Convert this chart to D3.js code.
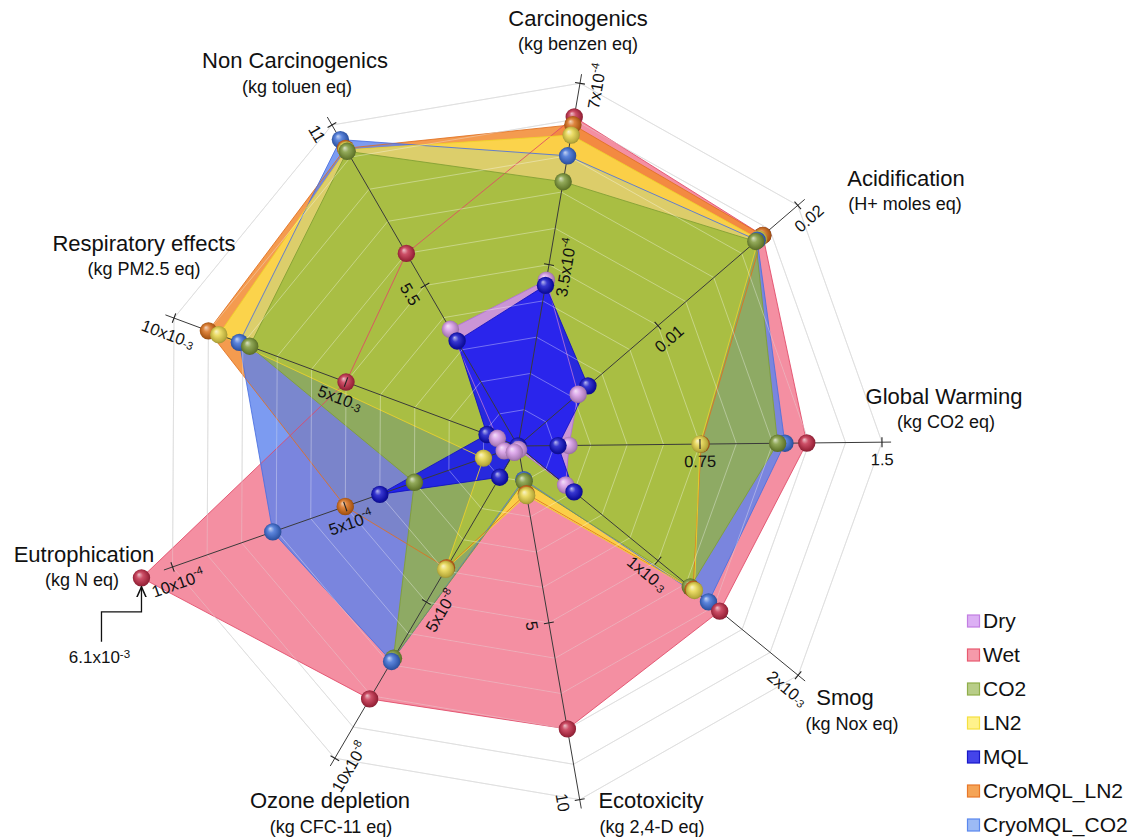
<!DOCTYPE html>
<html><head><meta charset="utf-8">
<script src="https://cdn.jsdelivr.net/npm/d3@7"></script>
<style>
body{margin:0;background:#fff;}
text{font-family:"Liberation Sans", Arial, sans-serif; fill:#111;}
</style>
</head><body>
<svg id="chart" width="1137" height="840"></svg>
<script>
// ---------------- DATA ----------------
const axes = ["Carcinogenics", "Acidification", "Global Warming", "Smog", "Ecotoxicity",
              "Ozone depletion", "Eutrophication", "Respiratory effects", "Non Carcinogenics"];
const units = ["(kg benzen eq)", "(H+ moles eq)", "(kg CO2 eq)", "(kg Nox eq)", "(kg 2,4-D eq)",
               "(kg CFC-11 eq)", "(kg N eq)", "(kg PM2.5 eq)", "(kg toluen eq)"];
const axisMax = [7e-4, 0.02, 1.5, 2e-3, 10, 10e-8, 10e-4, 10e-3, 11];
const midTickLabels = ["3.5x10^-4", "0.01", "0.75", "1x10_-3", "5", "5x10^-8", "5x10^-4", "5x10_-3", "5.5"];
const maxTickLabels = ["7x10^-4", "0.02", "1.5", "2x10_-3", "10", "10x10^-8", "10x10^-4", "10x10_-3", "11"];

const seriesNames = ["Dry", "Wet", "CO2", "LN2", "MQL", "CryoMQL_LN2", "CryoMQL_CO2"];
// values per axis, in the order of `axes`
const dry        = [3.2e-4, 0.0043, 0.21, 0.34e-3, 0.1, 0.2e-8, 0.4e-4, 0.6e-3, 4.0];
const wet        = [6.35e-4, 0.0175, 1.19, 1.44e-3, 8.0, 8.1e-8, 6.1e-3, 5.0e-3, 6.6];
const co2        = [5.1e-4, 0.0170, 1.07, 1.23e-3, 1.0, 6.8e-8, 3.0e-4, 7.8e-3, 10.1];
const ln2        = [6.0e-4, 0.0172, 0.75, 1.26e-3, 1.4, 3.95e-8, 1.0e-4, 8.7e-3, 10.15];
const mql        = [3.1e-4, 0.0050, 0.165, 0.40e-3, 0.0, 1.0e-8, 4.0e-4, 0.9e-3, 3.6];
const cryoMqlLn2 = [6.2e-4, 0.0175, 0.755, 1.25e-3, 1.35, 3.9e-8, 5.0e-4, 9.0e-3, 10.2];
const cryoMqlCo2 = [5.6e-4, 0.0171, 1.10, 1.36e-3, 0.95, 6.9e-8, 7.1e-4, 8.1e-3, 10.5];
const seriesValues = [dry, wet, co2, ln2, mql, cryoMqlLn2, cryoMqlCo2];
const offScaleNote = "6.1x10^-3";   // Wet eutrophication value, beyond the axis

// ---------------- LAYOUT / STYLE ----------------
const W = 1137, H = 840;
const center = [518, 446];
const axisAngleDeg = [-80.3, -40.7, -0.6, 39.3, 80.1, 120.4, 160.7, 200.4, 239.9];
const axisLength   = [368, 369, 364, 362, 359, 362, 366, 367, 371];
const overflowFrac = 1.09;
const ringCount = 10;
const titlePos = [[578,26],[906,186],[944,404],[845,705],[651,808],[330,808],[84,562],[144,251],[295,68]];
const unitPos  = [[578,50],[905,210],[946,428],[852,730],[652,833],[331,833],[82,586],[144,275],[297,93]];

const style = {
  "Dry":         {fill:"#d08ef0", op:0.85, stroke:"#b070d8", ball:"#d89ce8", lfill:"#dcb0f4", lstroke:"#c27ee2"},
  "Wet":         {fill:"#f0607a", op:0.70, stroke:"#e04866", ball:"#c4304c", lfill:"#f59aaa", lstroke:"#e85a70"},
  "CO2":         {fill:"#95b935", op:0.72, stroke:"#809f32", ball:"#7f9a3c", lfill:"#b8cd88", lstroke:"#8fae4a"},
  "LN2":         {fill:"#fde64a", op:0.75, stroke:"#efd22a", ball:"#e8d64c", lfill:"#fff28c", lstroke:"#f5e040"},
  "MQL":         {fill:"#1818ee", op:0.90, stroke:"#1010c0", ball:"#1414c8", lfill:"#4444ea", lstroke:"#1818c8"},
  "CryoMQL_LN2": {fill:"#f28a30", op:0.85, stroke:"#e07020", ball:"#d8701c", lfill:"#f5a456", lstroke:"#e8782a"},
  "CryoMQL_CO2": {fill:"#5b82ee", op:0.80, stroke:"#4a70e0", ball:"#3f6fd6", lfill:"#9cbaf5", lstroke:"#5a88ee"}
};
const drawOrder = ["Wet", "CryoMQL_LN2", "CryoMQL_CO2", "LN2", "CO2", "Dry", "MQL"];

// ---------------- SCALES ----------------
const svg = d3.select("#chart");
svg.append("rect").attr("width", W).attr("height", H).attr("fill", "#fff");
const defs = svg.append("defs");

const rScales = axisMax.map((m, i) => d3.scaleLinear().domain([0, m]).range([0, axisLength[i]]));
const rad = d => d * Math.PI / 180;
function polar(i, r) {
  const a = rad(axisAngleDeg[i]);
  return [center[0] + r * Math.cos(a), center[1] + r * Math.sin(a)];
}
function valuePoint(i, v) {
  const r = Math.min(rScales[i](v), axisLength[i] * overflowFrac);
  return polar(i, r);
}
const line = d3.line().curve(d3.curveLinearClosed);

function richText(sel, str) {
  const m = str.match(/^(.*?)([\^_])(.*)$/);
  if (!m) { sel.text(str); return; }
  sel.append("tspan").text(m[1]);
  sel.append("tspan").attr("dy", m[2] === "^" ? "-0.45em" : "0.3em")
     .attr("font-size", "0.68em").text(m[3]);
}

// ---------------- GRID (under) ----------------
const gridG = svg.append("g");
const ringPolys = d3.range(1, ringCount + 1).map(k =>
  axes.map((a, i) => polar(i, axisLength[i] * k / ringCount)));
gridG.selectAll("path").data(ringPolys).join("path")
  .attr("d", line).attr("fill", "none").attr("stroke", "#cfcfcf").attr("stroke-width", 1);

// ---------------- FILLS ----------------
const seriesData = drawOrder.map(name => {
  const vals = seriesValues[seriesNames.indexOf(name)];
  return {name, pts: vals.map((v, i) => valuePoint(i, v)), vals};
});
svg.append("g").selectAll("path").data(seriesData).join("path")
  .attr("d", d => line(d.pts))
  .attr("fill", d => style[d.name].fill)
  .attr("fill-opacity", d => style[d.name].op)
  .attr("stroke", "none");

svg.append("g").selectAll("path").data(seriesData).join("path")
  .attr("d", d => line(d.pts))
  .attr("fill", "none")
  .attr("stroke", d => style[d.name].stroke)
  .attr("stroke-opacity", 0.85)
  .attr("stroke-width", 1);

// grid over fills (light)
svg.append("g").selectAll("path").data(ringPolys).join("path")
  .attr("d", line).attr("fill", "none").attr("stroke", "#ffffff")
  .attr("stroke-opacity", 0.35).attr("stroke-width", 1);

// ---------------- AXES ----------------
const axisG = svg.append("g");
axes.forEach((a, i) => {
  const e = polar(i, axisLength[i] * 1.025);
  axisG.append("line").attr("x1", center[0]).attr("y1", center[1])
    .attr("x2", e[0]).attr("y2", e[1]).attr("stroke", "#3a3a3a").attr("stroke-width", 1);
});

// ---------------- BALLS ----------------
seriesNames.forEach((name, k) => {
  const base = d3.color(style[name].ball);
  const g = defs.append("radialGradient").attr("id", "ball" + k)
    .attr("cx", "50%").attr("cy", "50%").attr("r", "55%").attr("fx", "35%").attr("fy", "30%");
  g.append("stop").attr("offset", "0%").attr("stop-color", d3.interpolateRgb(base, "#fff")(0.7));
  g.append("stop").attr("offset", "35%").attr("stop-color", d3.interpolateRgb(base, "#fff")(0.15));
  g.append("stop").attr("offset", "80%").attr("stop-color", base.darker(0.6));
  g.append("stop").attr("offset", "100%").attr("stop-color", base.darker(1.3));
});
const balls = [];
seriesNames.forEach((name, k) => {
  seriesValues[k].forEach((v, i) => {
    const p = valuePoint(i, v);
    balls.push({k, x: p[0], y: p[1]});
  });
});
balls.sort((a, b) => a.y - b.y);
svg.append("g").selectAll("circle").data(balls).join("circle")
  .attr("cx", d => d.x).attr("cy", d => d.y).attr("r", 8.7)
  .attr("fill", d => `url(#ball${d.k})`);

// ---------------- TICKS & TICK LABELS ----------------
const tickG = svg.append("g");
axes.forEach((a, i) => {
  const ang = axisAngleDeg[i];
  let read = ((ang + 180) % 360 + 360) % 360 - 180;
  if (read > 90) read -= 180;
  if (read <= -90) read += 180;
  const below = [-Math.sin(rad(read)), Math.cos(rad(read))];
  const dirA = rad(ang);
  const perp = [-Math.sin(dirA), Math.cos(dirA)];
  [[0.5, midTickLabels[i]], [1, maxTickLabels[i]]].forEach(([f, lab]) => {
    const p = polar(i, rScales[i](axisMax[i] * f));
    tickG.append("line")
      .attr("x1", p[0] - perp[0] * 5).attr("y1", p[1] - perp[1] * 5)
      .attr("x2", p[0] + perp[0] * 5).attr("y2", p[1] + perp[1] * 5)
      .attr("stroke", "#222").attr("stroke-width", 1.1);
    const lx = p[0] + below[0] * 17, ly = p[1] + below[1] * 17;
    const t = tickG.append("text")
      .attr("transform", `translate(${lx},${ly}) rotate(${read})`)
      .attr("text-anchor", "middle").attr("dominant-baseline", "central")
      .attr("font-size", 16.5);
    richText(t, lab);
  });
});

// ---------------- AXIS TITLES ----------------
const titleG = svg.append("g");
axes.forEach((a, i) => {
  titleG.append("text").attr("x", titlePos[i][0]).attr("y", titlePos[i][1])
    .attr("text-anchor", "middle").attr("font-size", 22).text(a);
  titleG.append("text").attr("x", unitPos[i][0]).attr("y", unitPos[i][1])
    .attr("text-anchor", "middle").attr("font-size", 18).text(units[i]);
});

// ---------------- OFF-SCALE ANNOTATION ----------------
const eutroIdx = axes.indexOf("Eutrophication");
const wp = valuePoint(eutroIdx, wet[eutroIdx]);
defs.append("marker").attr("id", "arrow").attr("viewBox", "0 0 10 10")
  .attr("refX", 9).attr("refY", 5).attr("markerWidth", 9).attr("markerHeight", 9)
  .attr("orient", "auto-start-reverse")
  .append("path").attr("d", "M0,1 L9,5 L0,9").attr("fill", "none").attr("stroke", "#111").attr("stroke-width", 1.3);
const ax = wp[0] - 40, ay = wp[1] + 64;
svg.append("path")
  .attr("d", `M${ax},${ay} V${wp[1] + 34} H${wp[0]} V${wp[1] + 9}`)
  .attr("fill", "none").attr("stroke", "#111").attr("stroke-width", 1.3)
  .attr("marker-end", "url(#arrow)");
const an = svg.append("text").attr("x", ax - 2).attr("y", ay + 21)
  .attr("text-anchor", "middle").attr("font-size", 17);
richText(an, offScaleNote);

// ---------------- LEGEND ----------------
const legend = svg.append("g").attr("transform", "translate(967,621)");
seriesNames.forEach((name, k) => {
  const row = legend.append("g").attr("transform", `translate(0,${k * 34})`);
  row.append("rect").attr("x", 0.5).attr("y", -6).attr("width", 12).attr("height", 12)
    .attr("fill", style[name].lfill).attr("stroke", style[name].lstroke).attr("stroke-width", 1.2);
  row.append("text").attr("x", 16).attr("y", 7).attr("font-size", 21).text(name);
});
</script>
</body></html>
